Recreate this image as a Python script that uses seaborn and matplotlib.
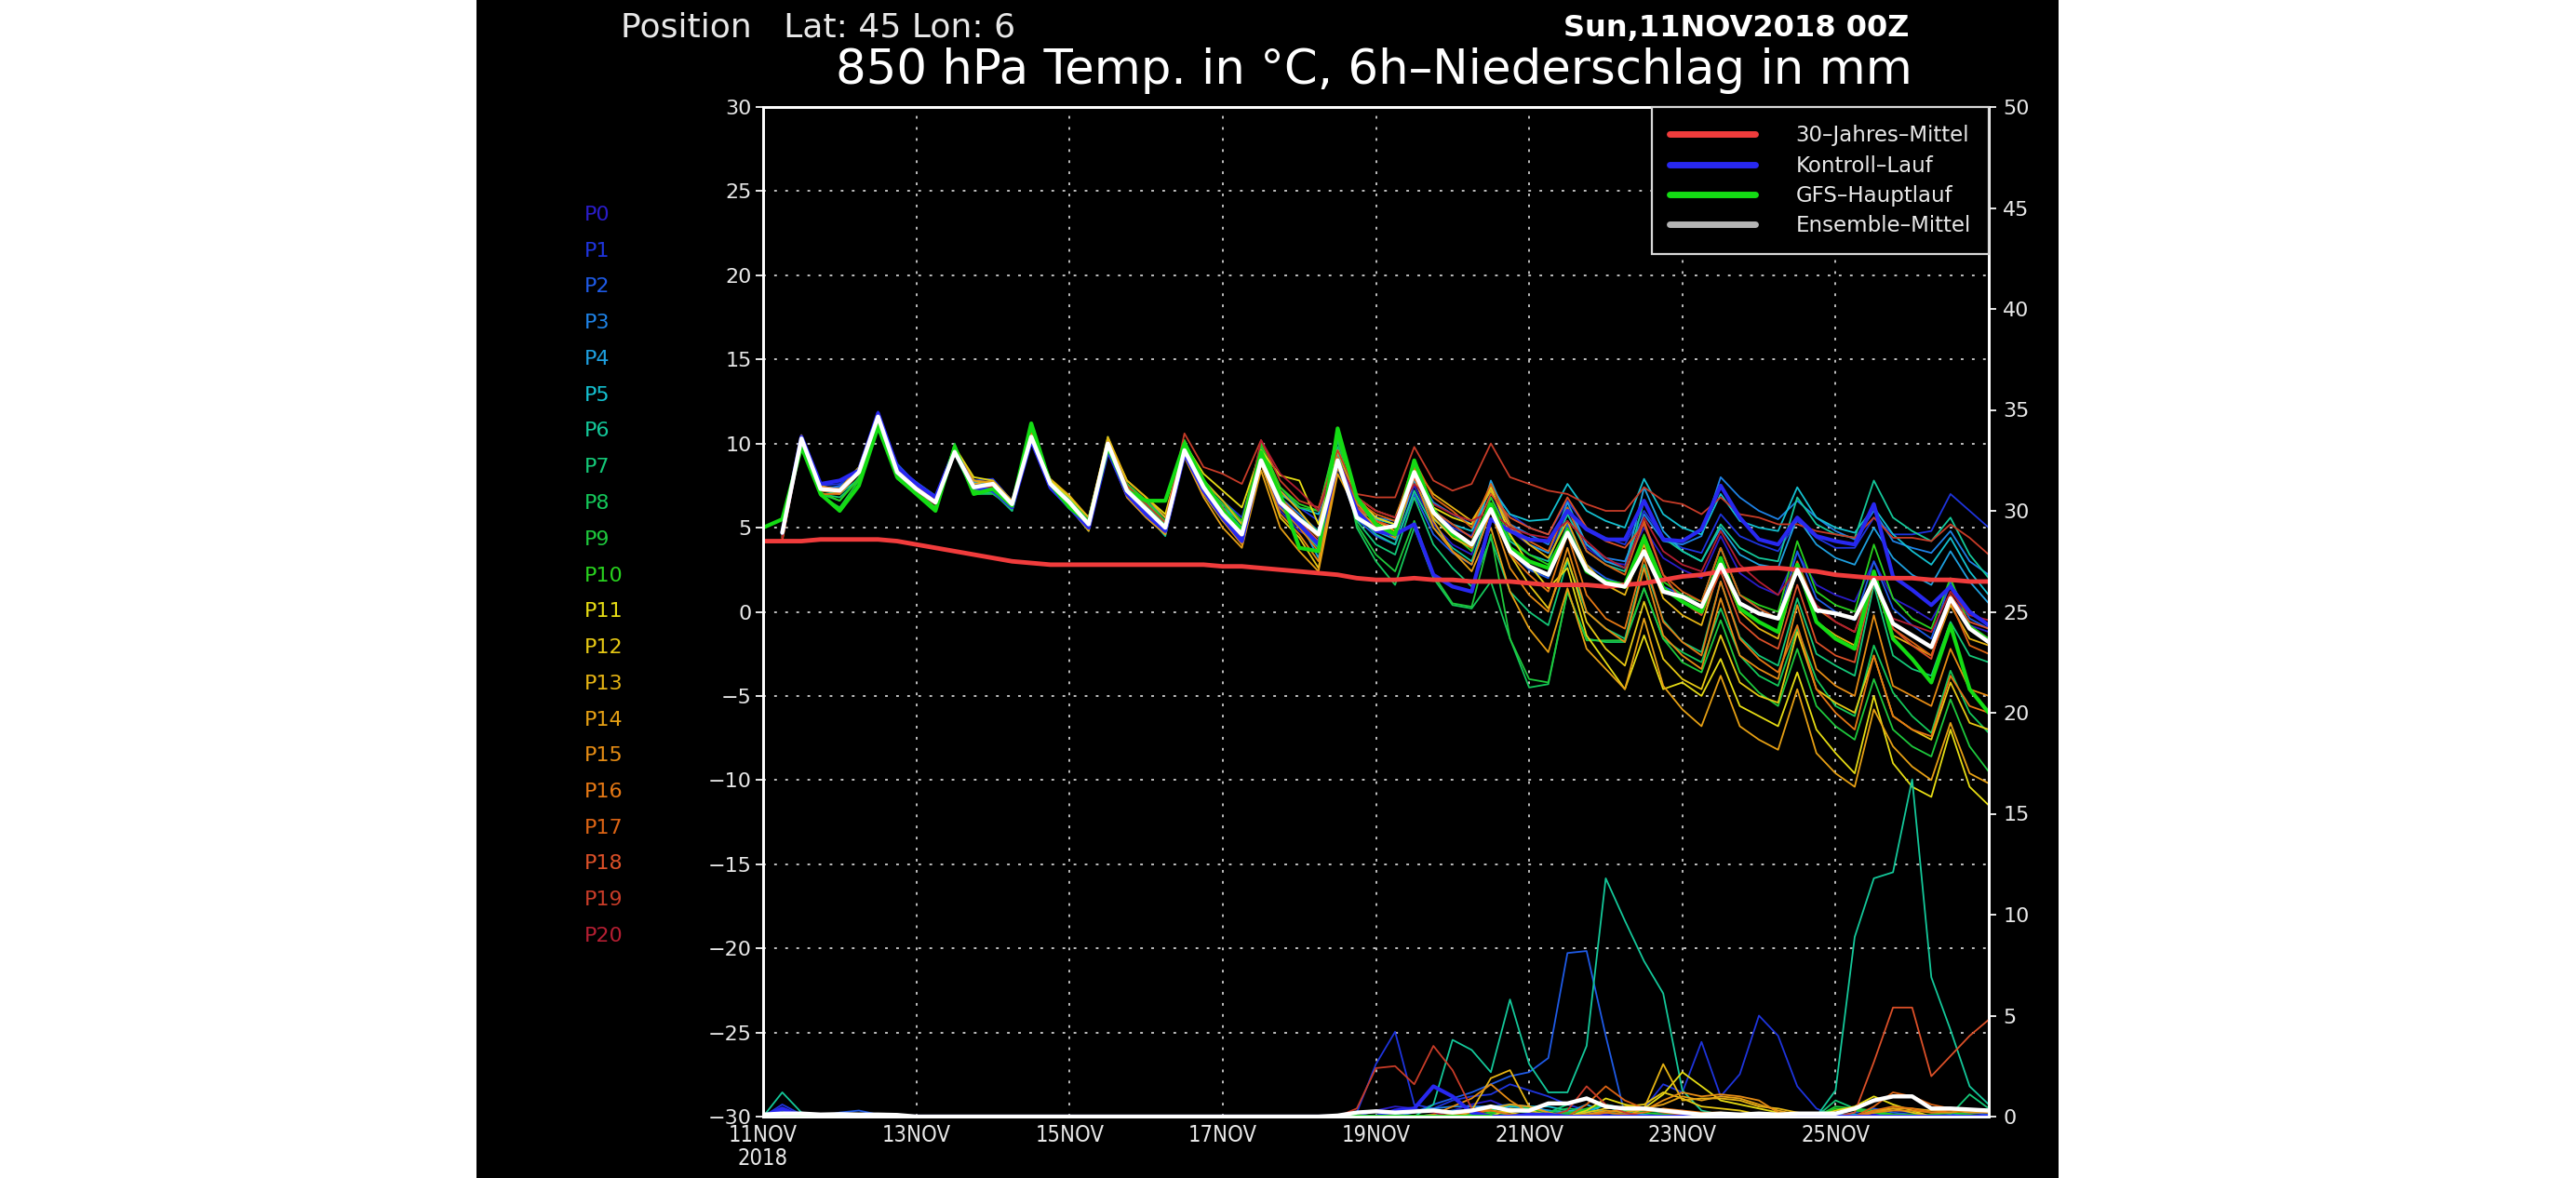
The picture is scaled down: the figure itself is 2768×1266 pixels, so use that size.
import matplotlib
matplotlib.use("Agg")
import matplotlib.pyplot as plt
from matplotlib.lines import Line2D
from matplotlib.patches import Rectangle
import seaborn as sns

# 6-hourly steps from 11NOV2018 00Z to +384h
HOURS = list(range(0, 385, 6))
MEMBER_HOURS = HOURS[1:]

# ---- 850 hPa temperature (degC) ----
CLIMATE = [4.2, 4.2, 4.2, 4.3, 4.3, 4.3, 4.3, 4.2, 4.0,
           3.8, 3.6, 3.4, 3.2, 3.0, 2.9, 2.8, 2.8,
           2.8, 2.8, 2.8, 2.8, 2.8, 2.8, 2.8, 2.7, 2.7,
           2.6, 2.5, 2.4, 2.3, 2.2, 2.0, 1.9, 1.9,
           2.0, 1.9, 1.9, 1.8, 1.8, 1.8, 1.7, 1.6,
           1.6, 1.6, 1.5, 1.6, 1.7, 1.9, 2.1, 2.2,
           2.4, 2.5, 2.6, 2.6, 2.5, 2.4, 2.2, 2.1,
           2.0, 2.0, 2.0, 1.9, 1.9, 1.8, 1.8]

GFS_TEMP = [5.0,
            5.5, 9.8, 7.0, 6.0, 7.5, 11.0, 8.0, 7.0, 6.0, 9.8, 7.0, 7.3, 6.3, 11.2, 7.6, 6.2,
            5.3, 9.8, 7.2, 6.6, 6.6, 10.0, 7.8, 6.0, 4.8, 9.5, 7.0, 3.8, 3.6, 10.9,
            6.8, 5.2, 4.6, 9.0, 6.0, 4.6, 4.0, 6.4, 3.8, 3.0, 2.6, 4.8, 2.4, 1.8, 1.6,
            4.4, 1.4, 0.6, 0.0, 3.2, 0.2, -0.6, -1.2, 2.8, -0.6, -1.6, -2.2,
            2.4, -1.6, -2.8, -4.2, -0.8, -4.6, -6.0]

CONTROL_TEMP = [4.7, 10.4, 7.6, 7.8, 8.4, 11.8, 8.6, 7.6, 6.8, 9.6, 7.4, 7.2, 6.2, 10.2, 7.4, 6.2,
                5.0, 9.6, 7.0, 5.8, 4.8, 9.4, 7.2, 5.6, 4.2, 9.2, 6.4, 5.2, 4.0, 9.0,
                6.0, 4.8, 4.6, 5.2, 2.2, 1.5, 1.2, 5.5, 4.8, 4.3, 4.2, 6.0, 4.9, 4.3, 4.3,
                6.6, 4.3, 4.2, 4.9, 7.5, 5.6, 4.3, 4.0, 5.6, 4.5, 4.2, 4.0,
                6.4, 2.1, 1.3, 0.4, 1.5, 0.0, -0.8]

MEAN_TEMP = [4.7, 10.3, 7.3, 7.2, 8.3, 11.6, 8.3, 7.3, 6.5, 9.5, 7.4, 7.6, 6.4, 10.4, 7.6, 6.5,
             5.2, 10.0, 7.2, 6.1, 5.0, 9.6, 7.4, 5.8, 4.6, 9.0, 6.5, 5.5, 4.6, 9.0,
             5.6, 4.9, 5.1, 8.3, 5.9, 4.8, 4.0, 6.1, 3.6, 2.7, 2.2, 4.7, 2.5, 1.7, 1.5,
             3.6, 1.2, 0.9, 0.3, 2.8, 0.5, -0.1, -0.4, 2.5, 0.1, -0.1, -0.4,
             1.9, -0.7, -1.4, -2.1, 0.8, -1.0, -1.8]

P0_TEMP = [4.6, 10.4, 7.3, 7.4, 8.4, 11.8, 8.4, 7.2, 6.6, 9.6, 7.6, 7.8, 6.4, 10.2, 7.4, 6.2,
           5.0, 9.6, 6.8, 5.6, 4.6, 9.4, 7.2, 5.6, 4.4, 8.8, 6.0, 4.8, 4.2, 8.8,
           6.0, 5.0, 4.6, 7.5, 5.2, 4.0, 3.4, 6.8, 4.8, 4.0, 3.5, 5.8, 3.8, 3.0, 2.8,
           5.0, 3.2, 2.5, 2.0, 4.5, 2.3, 1.5, 1.0, 3.5, 1.6, 1.0, 0.6,
           3.0, 0.8, 0.2, -0.5, 1.5, -0.8, -1.2]
P1_TEMP = [4.8, 10.5, 7.5, 7.6, 8.4, 11.9, 8.6, 7.6, 6.8, 9.8, 7.8, 7.9, 6.6, 10.3, 7.8, 6.8,
           5.4, 9.9, 7.4, 6.4, 5.4, 9.8, 7.8, 6.6, 5.6, 9.6, 7.2, 6.2, 5.4, 9.4,
           6.5, 5.6, 5.2, 8.0, 6.0, 5.0, 4.5, 7.5, 5.8, 5.0, 4.6, 6.6, 5.0, 4.4, 4.0,
           6.0, 4.4, 3.8, 3.5, 5.8, 4.5, 4.0, 3.6, 5.4, 4.4, 3.8, 3.8,
           5.6, 4.6, 4.6, 4.8, 7.0, 6.0, 5.0]
P2_TEMP = [4.7, 10.2, 7.2, 7.5, 8.2, 11.7, 8.8, 7.6, 6.8, 9.4, 7.6, 7.6, 6.2, 10.1, 7.3, 6.2,
           5.0, 9.8, 7.0, 5.8, 4.8, 9.4, 7.0, 5.6, 4.2, 8.9, 6.4, 5.2, 4.0, 8.6,
           5.5, 4.5, 4.0, 7.0, 4.6, 3.5, 2.8, 6.0, 3.6, 2.5, 2.0, 5.2, 2.8, 2.0, 1.6,
           4.5, 1.5, 1.0, 0.6, 3.8, 1.0, 0.2, -0.4, 3.6, 0.8, 0.0, -0.5,
           3.0, 0.2, -0.8, -1.6, 1.8, -0.4, -1.0]
P3_TEMP = [4.6, 10.4, 7.4, 7.4, 8.3, 11.6, 8.6, 7.7, 6.9, 9.6, 7.8, 7.4, 6.4, 10.4, 7.8, 6.8,
           5.6, 10.2, 7.6, 6.6, 5.6, 9.8, 7.6, 6.4, 5.2, 9.4, 6.8, 5.8, 4.8, 9.2,
           6.2, 5.6, 5.4, 8.4, 6.5, 5.8, 5.2, 7.2, 5.2, 4.6, 4.0, 6.2, 4.0, 3.2, 3.0,
           5.8, 4.2, 4.0, 4.5, 8.0, 6.8, 6.0, 5.5, 6.6, 5.6, 4.8, 4.3,
           6.0, 4.2, 3.8, 3.5, 4.8, 3.0, 2.2]
P4_TEMP = [4.8, 10.3, 7.3, 7.2, 8.3, 11.5, 8.4, 7.4, 6.6, 9.6, 7.7, 7.4, 6.2, 10.6, 7.8, 6.6,
           5.4, 10.2, 7.6, 6.4, 5.2, 9.8, 7.8, 6.0, 4.6, 9.2, 6.6, 5.4, 3.2, 8.8,
           6.0, 4.8, 4.3, 7.8, 5.5, 4.6, 3.8, 7.8, 5.2, 4.0, 3.5, 6.5, 4.0, 3.0, 2.6,
           7.4, 4.8, 3.6, 3.0, 5.0, 3.4, 2.8, 2.6, 5.6, 4.0, 3.2, 2.8,
           5.0, 3.2, 2.2, 1.6, 3.6, 1.8, 0.5]
P5_TEMP = [4.7, 10.3, 7.4, 7.3, 8.2, 11.4, 8.3, 7.5, 6.7, 9.6, 7.8, 7.6, 6.5, 10.5, 7.7, 6.7,
           5.3, 10.0, 7.4, 6.4, 5.3, 9.7, 7.6, 6.2, 5.3, 9.6, 7.0, 6.2, 5.8, 9.4,
           6.0, 5.5, 5.2, 8.0, 6.0, 5.2, 4.8, 7.4, 5.8, 5.4, 5.5, 7.6, 6.0, 5.4, 5.0,
           7.9, 5.8, 5.0, 4.6, 7.0, 5.4, 5.0, 4.8, 7.4, 5.6, 5.0, 4.7,
           6.2, 4.6, 3.6, 2.8, 4.4, 2.4, 1.0]
P6_TEMP = [4.5, 10.2, 7.2, 7.0, 7.9, 11.4, 8.0, 7.0, 6.2, 9.5, 7.2, 7.2, 6.0, 10.3, 7.4, 6.2,
           4.8, 9.8, 7.0, 5.8, 4.5, 9.4, 7.0, 5.4, 4.2, 9.0, 6.2, 5.0, 3.8, 9.6,
           5.8, 4.6, 4.0, 7.2, 5.0, 3.8, 3.0, 6.4, 4.2, 3.4, 3.0, 5.8, 3.6, 2.8, 2.4,
           6.6, 4.4, 3.6, 3.0, 5.2, 3.8, 3.2, 3.0, 6.8, 5.2, 4.6, 4.4,
           7.8, 5.6, 4.8, 4.2, 5.6, 3.4, 2.0]
P7_TEMP = [4.6, 10.2, 7.0, 6.8, 7.8, 11.5, 8.0, 7.0, 6.2, 9.4, 7.0, 7.1, 6.0, 10.4, 7.5, 6.4,
           5.1, 10.1, 7.4, 6.3, 5.2, 9.8, 7.6, 6.2, 5.0, 9.4, 6.4, 5.6, 4.8, 9.8,
           5.4, 4.0, 3.4, 6.8, 4.0, 2.6, 1.5, 4.4, 1.2, 0.0, -0.8, 3.0, 0.0, -1.0, -1.6,
           2.8, -0.5, -1.8, -2.4, 1.8, -1.5, -2.6, -3.2, 0.8, -2.5, -3.2, -3.8,
           1.6, -2.6, -3.4, -3.8, -0.6, -2.6, -3.0]
P8_TEMP = [4.8, 10.1, 7.0, 6.6, 8.0, 11.3, 8.0, 7.0, 6.0, 9.8, 7.0, 7.0, 6.2, 10.8, 7.8, 6.6,
           5.2, 10.2, 7.4, 6.4, 5.2, 10.0, 7.6, 6.0, 4.8, 9.4, 6.6, 5.6, 4.4, 10.2,
           5.0, 3.0, 1.6, 5.0, 2.0, 0.4, 0.2, 1.8, -1.6, -4.5, -4.3, 1.2, -1.6, -1.8, -1.8,
           1.4, -1.6, -2.4, -3.0, 0.2, -2.6, -3.8, -4.4, -1.0, -4.0, -5.6, -6.2,
           -2.0, -4.8, -6.2, -7.2, -3.5, -6.0, -7.2]
P9_TEMP = [4.9, 10.0, 6.9, 6.2, 7.8, 11.2, 7.9, 7.0, 6.0, 10.0, 7.1, 7.2, 6.2, 11.0, 7.8, 6.6,
           5.3, 10.4, 7.5, 6.6, 5.2, 10.2, 7.6, 6.4, 5.2, 9.8, 7.4, 6.2, 6.0, 10.6,
           5.2, 3.4, 2.4, 5.4, 2.2, 0.5, 0.3, 4.6, -1.6, -4.0, -4.2, 1.2, -1.7, -1.7, -1.7,
           1.4, -1.6, -3.0, -3.6, -0.5, -3.6, -4.8, -5.6, -2.2, -5.6, -6.8, -7.6,
           -4.0, -7.0, -8.0, -8.6, -5.2, -8.0, -9.5]
P10_TEMP = [4.8, 10.2, 7.1, 6.6, 7.9, 11.3, 8.1, 7.2, 6.2, 9.9, 7.2, 7.3, 6.3, 10.8, 7.8, 6.8,
            5.4, 10.3, 7.6, 6.6, 5.4, 10.2, 7.8, 6.6, 5.4, 10.0, 7.4, 6.4, 6.0, 10.4,
            6.6, 5.2, 4.4, 9.0, 6.2, 4.6, 3.6, 6.8, 4.4, 3.4, 2.8, 5.0, 2.6, 1.8, 1.4,
            4.6, 1.8, 1.0, 0.6, 3.8, 1.0, 0.4, 0.0, 4.2, 1.2, 0.4, 0.0,
            4.0, 0.8, -0.4, -1.0, 2.0, -0.8, -1.6]
P11_TEMP = [4.5, 10.4, 7.4, 7.3, 8.6, 11.8, 8.4, 7.6, 6.8, 9.8, 8.0, 7.8, 6.4, 10.4, 7.8, 6.8,
            5.6, 10.2, 7.8, 6.8, 5.8, 10.0, 8.2, 7.2, 6.2, 9.6, 8.1, 7.8, 5.2, 9.6,
            6.8, 5.6, 5.2, 8.8, 6.2, 5.6, 5.2, 7.4, 4.6, 2.8, 1.4, 2.6, -1.4, -3.0, -4.6,
            -1.4, -4.6, -4.2, -5.0, -2.8, -5.6, -6.2, -6.8, -3.6, -7.0, -8.4, -9.6,
            -5.0, -9.0, -10.4, -11.0, -7.0, -10.4, -11.5]
P12_TEMP = [4.4, 10.3, 7.3, 7.2, 8.4, 11.6, 8.2, 7.4, 6.6, 9.6, 7.8, 7.6, 6.4, 10.4, 7.6, 6.6,
            5.2, 10.0, 7.4, 6.2, 5.0, 9.6, 7.4, 5.6, 4.2, 8.8, 5.6, 4.4, 2.6, 8.6,
            6.4, 5.4, 4.8, 8.2, 5.6, 4.4, 3.8, 6.4, 3.4, 1.6, 0.2, 3.2, -0.6, -2.2, -3.2,
            0.6, -2.8, -4.0, -4.6, -1.4, -4.2, -5.0, -5.4, -1.2, -4.6, -5.4, -6.0,
            -2.6, -6.2, -7.0, -7.6, -4.2, -6.6, -7.0]
P13_TEMP = [4.6, 10.5, 7.2, 7.1, 8.5, 11.7, 8.4, 7.3, 6.7, 9.6, 7.6, 7.8, 6.6, 10.5, 7.9, 6.9,
            5.6, 10.4, 7.8, 6.8, 5.6, 10.0, 7.8, 6.6, 5.2, 9.6, 7.2, 6.0, 4.6, 9.6,
            6.8, 6.0, 5.6, 8.6, 7.0, 6.2, 5.4, 7.2, 5.0, 4.0, 3.2, 5.4, 2.8, 1.6, 1.0,
            4.0, 0.8, -0.2, -0.8, 2.8, 0.0, -1.0, -1.6, 2.6, -0.6, -1.4, -2.0,
            1.8, -1.4, -2.0, -2.6, 0.4, -1.6, -2.0]
P14_TEMP = [4.3, 10.4, 7.5, 7.2, 8.4, 11.7, 8.3, 7.4, 6.6, 9.7, 7.8, 7.7, 6.2, 10.2, 7.4, 6.2,
            4.8, 9.6, 6.8, 5.6, 4.6, 9.2, 6.8, 5.0, 3.8, 8.4, 5.0, 3.6, 2.4, 8.2,
            6.0, 5.2, 4.6, 8.4, 5.4, 3.6, 2.4, 5.0, 1.2, -1.0, -2.4, 1.4, -2.2, -3.4, -4.6,
            -0.4, -4.4, -5.8, -6.8, -3.8, -6.8, -7.6, -8.2, -4.6, -8.4, -9.6, -10.4,
            -5.8, -8.0, -9.2, -10.0, -6.6, -9.6, -10.2]
P15_TEMP = [4.4, 10.3, 7.2, 7.1, 8.2, 11.5, 8.2, 7.2, 6.5, 9.5, 7.5, 7.4, 6.2, 10.4, 7.6, 6.4,
            5.0, 9.8, 7.0, 5.8, 4.8, 9.4, 7.0, 5.4, 4.0, 8.8, 5.8, 4.6, 3.0, 8.6,
            6.2, 5.0, 4.4, 8.0, 5.0, 3.6, 2.8, 6.0, 2.6, 1.0, 0.0, 3.8, 0.0, -1.0, -1.8,
            2.6, -1.4, -2.6, -3.4, 0.8, -2.6, -3.4, -4.0, 0.4, -3.4, -4.4, -5.0,
            -0.2, -4.4, -5.0, -5.6, -2.2, -4.6, -5.0]
P16_TEMP = [4.2, 10.2, 7.0, 7.0, 8.2, 11.5, 8.2, 7.2, 6.4, 9.6, 7.4, 7.4, 6.3, 10.6, 7.6, 6.4,
            5.1, 9.8, 7.0, 5.8, 4.7, 9.5, 7.2, 5.8, 4.4, 9.2, 6.2, 5.0, 3.6, 9.0,
            6.4, 5.4, 5.0, 8.6, 5.8, 4.6, 3.8, 6.2, 3.4, 2.2, 1.2, 4.6, 1.0, -0.4, -1.0,
            3.2, -0.6, -1.8, -2.6, 1.8, -1.6, -2.8, -3.6, -0.8, -4.6, -6.0, -7.0,
            -2.6, -6.2, -7.0, -7.4, -3.8, -5.6, -6.0]
P17_TEMP = [4.4, 10.3, 7.2, 7.2, 8.4, 11.6, 8.4, 7.4, 6.5, 9.5, 7.5, 7.5, 6.4, 10.3, 7.6, 6.4,
            5.2, 10.0, 7.2, 6.0, 4.9, 9.6, 7.4, 5.9, 4.6, 9.4, 6.8, 5.6, 4.4, 9.2,
            6.6, 5.8, 5.4, 9.0, 6.8, 6.0, 5.0, 7.6, 5.2, 4.2, 3.6, 6.2, 3.6, 2.8, 2.2,
            5.4, 2.2, 1.2, 0.6, 3.8, 1.0, 0.2, -0.4, 3.0, 0.2, -0.6, -1.2,
            2.2, -1.0, -1.8, -2.6, 0.6, -2.0, -2.5]
P18_TEMP = [4.3, 10.2, 7.4, 7.3, 8.5, 11.8, 8.5, 7.5, 6.6, 9.4, 7.5, 7.6, 6.4, 10.2, 7.6, 6.4,
            5.2, 9.9, 7.2, 6.0, 5.0, 10.0, 7.6, 6.2, 4.6, 9.4, 6.6, 5.4, 4.2, 8.8,
            6.2, 5.4, 5.0, 8.0, 6.0, 5.2, 4.4, 7.0, 5.6, 5.0, 4.6, 6.8, 5.0, 4.2, 3.8,
            5.2, 2.2, 0.6, -0.2, 2.4, -0.6, -1.6, -2.2, 1.6, -1.8, -2.6, -3.0,
            2.0, -1.0, -2.0, -2.8, 1.0, -0.6, -1.0]
P19_TEMP = [4.5, 10.1, 7.3, 7.1, 8.3, 11.5, 8.2, 7.3, 6.4, 9.4, 7.4, 7.5, 6.3, 10.3, 7.6, 6.4,
            5.1, 10.1, 7.5, 6.4, 5.3, 10.6, 8.6, 8.2, 7.6, 10.2, 7.8, 6.6, 6.2, 9.6,
            7.0, 6.8, 6.8, 9.8, 7.8, 7.2, 7.6, 10.0, 8.0, 7.6, 7.2, 7.0, 6.4, 6.0, 6.0,
            7.4, 6.6, 6.4, 5.8, 6.8, 5.8, 5.6, 5.2, 5.2, 4.8, 4.6, 4.4,
            5.6, 4.4, 4.4, 4.2, 5.2, 4.4, 3.4]
P20_TEMP = [4.4, 10.0, 7.2, 7.2, 8.2, 11.4, 8.2, 7.2, 6.4, 9.4, 7.4, 7.4, 6.2, 10.2, 7.5, 6.3,
            5.0, 9.9, 7.1, 6.0, 4.9, 9.6, 7.2, 5.8, 4.7, 10.2, 8.2, 7.2, 6.0, 9.0,
            6.8, 6.0, 5.6, 7.6, 6.4, 5.8, 5.4, 6.0, 5.0, 4.6, 4.4, 5.4, 4.2, 3.2, 2.6,
            5.6, 3.6, 2.8, 2.4, 4.8, 2.8, 1.8, 1.0, 2.6, 0.4, -0.6, -1.2,
            1.8, -0.4, -0.8, -1.2, 1.2, -0.2, -0.5]

# ---- 6h precipitation (mm), t = 0 .. 384h ----
MEAN_RAIN = [0.1, 0.15, 0.15, 0.1, 0.12, 0.1, 0.1, 0.08, 0, 0, 0, 0, 0, 0, 0, 0,
             0, 0, 0, 0, 0, 0, 0, 0, 0, 0, 0, 0, 0, 0, 0.05,
             0.2, 0.26, 0.2, 0.25, 0.3, 0.2, 0.3, 0.5, 0.3, 0.3, 0.65, 0.65, 0.9, 0.5, 0.4,
             0.4, 0.3, 0.2, 0.1, 0.15, 0.1, 0.15, 0.1, 0.15, 0.15, 0.15, 0.4,
             0.8, 1.0, 1.0, 0.4, 0.4, 0.35, 0.3]
CONTROL_RAIN = [0, 0.4, 0, 0, 0, 0, 0, 0, 0, 0, 0, 0, 0, 0, 0, 0,
                0, 0, 0, 0, 0, 0, 0, 0, 0, 0, 0, 0, 0, 0, 0,
                0, 0, 0.3, 0.4, 1.5, 1.0, 0.2, 0, 0, 0.1, 0.1, 0, 0, 0, 0,
                0, 0, 0, 0, 0, 0, 0, 0, 0, 0, 0, 0,
                0, 0, 0, 0, 0, 0, 0]
GFS_RAIN = [0, 0, 0, 0, 0, 0, 0, 0, 0, 0, 0, 0, 0, 0, 0, 0, 0, 0, 0, 0,
            0, 0, 0, 0, 0, 0, 0, 0, 0, 0, 0, 0, 0, 0, 0, 0, 0, 0, 0]

P0_RAIN = [0, 0.2, 0, 0, 0, 0, 0, 0, 0, 0, 0, 0, 0, 0, 0, 0,
           0, 0, 0, 0, 0, 0, 0, 0, 0, 0, 0, 0, 0, 0, 0,
           0, 0.3, 0.5, 0.4, 0.2, 0.3, 0.6, 0.8, 0.4, 0.2, 0.1, 0.3, 0.2, 0.1, 0,
           0, 0.2, 0.3, 0.1, 0, 0, 0.1, 0, 0, 0, 0, 0,
           0.1, 0.3, 0.2, 0, 0, 0, 0.1]
P1_RAIN = [0, 0.6, 0.1, 0, 0, 0, 0, 0, 0, 0, 0, 0, 0, 0, 0, 0,
           0, 0, 0, 0, 0, 0, 0, 0, 0, 0, 0, 0, 0, 0, 0,
           0.2, 2.6, 4.2, 0.6, 0.4, 0.8, 1.0, 1.1, 1.6, 1.3, 1.0, 0.6, 0.3, 0.2, 0.1,
           0.4, 1.6, 1.2, 3.7, 1.0, 2.1, 5.0, 4.0, 1.5, 0.4, 0, 0,
           0, 0.1, 0, 0, 0, 0, 0]
P2_RAIN = [0, 0.3, 0, 0, 0.2, 0.3, 0.1, 0, 0, 0, 0, 0, 0, 0, 0, 0,
           0, 0, 0, 0, 0, 0, 0, 0, 0, 0, 0, 0, 0, 0, 0,
           0, 0, 0, 0.2, 0.6, 0.9, 1.2, 1.6, 2.0, 2.2, 2.9, 8.1, 8.2, 4.0, 0.1,
           0, 0, 0.2, 0.1, 0, 0, 0, 0, 0, 0, 0, 0.2,
           0.4, 0.2, 0.1, 0, 0.1, 0.2, 0.1]
P3_RAIN = [0, 0, 0, 0, 0, 0, 0, 0, 0, 0, 0, 0, 0, 0, 0, 0,
           0, 0, 0, 0, 0, 0, 0, 0, 0, 0, 0, 0, 0, 0, 0,
           0, 0, 0.1, 0.3, 0.4, 0.5, 0.5, 0.5, 0.6, 0.5, 0.3, 0.2, 0.3, 0.6, 0.2,
           0.1, 0, 0, 0, 0, 0, 0, 0, 0, 0, 0.1, 0.1,
           0.2, 0.1, 0, 0, 0, 0, 0]
P4_RAIN = [0, 0, 0, 0, 0, 0, 0, 0, 0, 0, 0, 0, 0, 0, 0, 0,
           0, 0, 0, 0, 0, 0, 0, 0, 0, 0, 0, 0, 0, 0, 0,
           0, 0, 0, 0, 0.1, 0.3, 0.3, 0.5, 0.5, 0.4, 0.3, 0.2, 0.6, 0.2, 0.1,
           0, 0, 0, 0, 0, 0, 0, 0, 0, 0, 0, 0,
           0, 0, 0, 0.1, 0.2, 0, 0]
P5_RAIN = [0, 0, 0, 0, 0, 0, 0, 0, 0, 0, 0, 0, 0, 0, 0, 0,
           0, 0, 0, 0, 0, 0, 0, 0, 0, 0, 0, 0, 0, 0, 0,
           0, 0, 0, 0, 0, 0.1, 0.2, 0.4, 0.5, 0.5, 0.5, 0.3, 0.2, 0.6, 0.4,
           0.1, 0, 0, 0, 0, 0, 0, 0, 0, 0, 0.1, 0.1,
           0, 0, 0, 0, 0, 0, 0]
P6_RAIN = [0, 1.2, 0.2, 0.1, 0, 0, 0, 0, 0, 0, 0, 0, 0, 0, 0, 0,
           0, 0, 0, 0, 0, 0, 0, 0, 0, 0, 0, 0, 0, 0, 0,
           0, 0, 0, 0, 0.6, 3.8, 3.3, 2.2, 5.8, 2.6, 1.2, 1.2, 3.5, 11.8, 9.7,
           7.7, 6.1, 1.3, 0.3, 0.1, 0, 0, 0, 0, 0, 1.3, 8.9,
           11.8, 12.1, 16.7, 6.9, 4.3, 1.5, 0.6]
P7_RAIN = [0, 0, 0, 0, 0, 0, 0, 0, 0, 0, 0, 0, 0, 0, 0, 0,
           0, 0, 0, 0, 0, 0, 0, 0, 0, 0, 0, 0, 0, 0, 0,
           0, 0, 0, 0, 0, 0.1, 0.2, 0.3, 0.6, 0.4, 0.2, 0.6, 0.9, 0.5, 0.2,
           0.3, 0.2, 0.1, 0, 0, 0, 0, 0, 0, 0, 0.8, 0.4,
           0.2, 0, 0, 0, 0.1, 1.1, 0.4]
P8_RAIN = [0, 0, 0, 0, 0, 0, 0, 0, 0, 0, 0, 0, 0, 0, 0, 0,
           0, 0, 0, 0, 0, 0, 0, 0, 0, 0, 0, 0, 0, 0, 0,
           0, 0, 0, 0, 0, 0, 0.1, 0.2, 0.1, 0.1, 0.2, 0.4, 0.3, 0.2, 0.1,
           0, 0, 0, 0, 0, 0, 0, 0, 0, 0, 0, 0,
           0, 0, 0, 0, 0, 0, 0]
P9_RAIN = [0, 0, 0, 0, 0, 0, 0, 0, 0, 0, 0, 0, 0, 0, 0, 0,
           0, 0, 0, 0, 0, 0, 0, 0, 0, 0, 0, 0, 0, 0, 0,
           0, 0, 0, 0, 0, 0, 0, 0.1, 0.3, 0.2, 0.1, 0.2, 0.3, 0.2, 0.1,
           0, 0.1, 0.1, 0, 0, 0, 0, 0, 0, 0, 0.5, 0.4,
           0.3, 0.1, 0, 0, 0, 0, 0]
P10_RAIN = [0, 0, 0, 0, 0, 0, 0, 0, 0, 0, 0, 0, 0, 0, 0, 0,
            0, 0, 0, 0, 0, 0, 0, 0, 0, 0, 0, 0, 0, 0, 0,
            0, 0, 0, 0, 0, 0, 0, 0.2, 0.3, 0.4, 0.2, 0.1, 0.4, 0.6, 0.3,
            0.2, 0.1, 0, 0, 0, 0, 0, 0, 0, 0, 0.4, 0.3,
            0.2, 0.1, 0.1, 0.1, 0.2, 0.1, 0]
P11_RAIN = [0, 0, 0, 0, 0, 0, 0, 0, 0, 0, 0, 0, 0, 0, 0, 0,
            0, 0, 0, 0, 0, 0, 0, 0, 0, 0, 0, 0, 0, 0, 0,
            0, 0, 0, 0, 0, 0, 0, 0, 0.4, 0.3, 0.1, 0, 0.3, 0.9, 0.6,
            0.4, 1.1, 2.2, 1.5, 0.8, 0.6, 0.4, 0.2, 0, 0, 0.3, 0.5,
            1.0, 0.6, 0.3, 0, 0, 0, 0]
P12_RAIN = [0, 0, 0, 0, 0, 0, 0, 0, 0, 0, 0, 0, 0, 0, 0, 0,
            0, 0, 0, 0, 0, 0, 0, 0, 0, 0, 0, 0, 0, 0, 0,
            0, 0, 0, 0, 0, 0, 0.2, 0.3, 0.2, 0, 0, 0, 0.2, 0.4, 0.5,
            0.6, 1.2, 0.9, 0.5, 0.4, 0.3, 0.1, 0, 0, 0, 0, 0,
            0.3, 0.4, 0.2, 0, 0, 0, 0]
P13_RAIN = [0, 0, 0, 0, 0, 0, 0, 0, 0, 0, 0, 0, 0, 0, 0, 0,
            0, 0, 0, 0, 0, 0, 0, 0, 0, 0, 0, 0, 0, 0, 0,
            0, 0, 0, 0, 0, 0.1, 0.3, 1.9, 2.3, 0.5, 0.2, 0, 0, 0, 0,
            0.4, 2.6, 0.8, 0.9, 0.9, 0.8, 0.5, 0.4, 0.2, 0.1, 0, 0,
            0, 0, 0, 0, 0, 0, 0]
P14_RAIN = [0, 0, 0, 0, 0, 0, 0, 0, 0, 0, 0, 0, 0, 0, 0, 0,
            0, 0, 0, 0, 0, 0, 0, 0, 0, 0, 0, 0, 0, 0, 0,
            0, 0, 0, 0, 0, 0.1, 0.2, 0.4, 0.6, 0.5, 0.2, 0, 0.1, 0.3, 0.2,
            0.4, 0.6, 1.0, 0.8, 1.0, 0.9, 0.6, 0.3, 0.1, 0, 0, 0,
            0.2, 0.4, 0.4, 0.3, 0.3, 0.2, 0.2]
P15_RAIN = [0, 0, 0, 0, 0, 0, 0, 0, 0, 0, 0, 0, 0, 0, 0, 0,
            0, 0, 0, 0, 0, 0, 0, 0, 0, 0, 0, 0, 0, 0, 0,
            0, 0, 0, 0, 0.1, 0.5, 0.9, 1.6, 0.8, 0.2, 0, 0, 0.1, 0.2, 0.4,
            0.3, 0.8, 1.2, 1.0, 1.1, 1.0, 0.8, 0.2, 0, 0, 0, 0,
            0.2, 0.3, 0.3, 0.2, 0.2, 0.3, 0.2]
P16_RAIN = [0, 0, 0, 0, 0, 0, 0, 0, 0, 0, 0, 0, 0, 0, 0, 0,
            0, 0, 0, 0, 0, 0, 0, 0, 0, 0, 0, 0, 0, 0, 0,
            0, 0, 0, 0, 0, 0.1, 0.2, 0.3, 0.1, 0, 0, 0, 0, 0.2, 0.1,
            0.2, 0.4, 0.3, 0.2, 0.2, 0.1, 0, 0, 0, 0, 0, 0,
            0.3, 0.5, 0.4, 0.2, 0.3, 0.3, 0.3]
P17_RAIN = [0, 0, 0, 0, 0, 0, 0, 0, 0, 0, 0, 0, 0, 0, 0, 0,
            0, 0, 0, 0, 0, 0, 0, 0, 0, 0, 0, 0, 0, 0, 0,
            0, 0, 0, 0, 0, 0, 0, 0, 0, 0, 0, 0, 0.6, 1.5, 0.8,
            0.4, 0.2, 0.1, 0, 0, 0, 0, 0, 0, 0, 0, 0,
            0.5, 1.2, 1.0, 0.6, 0.4, 0.3, 0.3]
P18_RAIN = [0, 0, 0, 0, 0, 0, 0, 0, 0, 0, 0, 0, 0, 0, 0, 0,
            0, 0, 0, 0, 0, 0, 0, 0, 0, 0, 0, 0, 0, 0, 0,
            0, 0, 0, 0, 0, 0, 0, 0, 0, 0, 0, 0, 0, 0, 0,
            0, 0, 0, 0, 0, 0, 0, 0, 0, 0, 0, 0.2,
            2.7, 5.4, 5.4, 2.0, 3.0, 4.0, 4.8]
P19_RAIN = [0, 0, 0, 0, 0, 0, 0, 0, 0, 0, 0, 0, 0, 0, 0, 0,
            0, 0, 0, 0, 0, 0, 0, 0, 0, 0, 0, 0, 0, 0, 0,
            0.4, 2.4, 2.5, 1.6, 3.5, 2.3, 0.4, 0, 0, 0, 0, 0.3, 1.5, 0.6, 0.2,
            0, 0, 0, 0, 0, 0, 0, 0, 0, 0, 0, 0,
            0, 0, 0, 0, 0, 0, 0]
P20_RAIN = [0, 0, 0, 0, 0, 0, 0, 0, 0, 0, 0, 0, 0, 0, 0, 0,
            0, 0, 0, 0, 0, 0, 0, 0, 0, 0, 0, 0, 0, 0, 0,
            0, 0, 0.2, 0.3, 0.2, 0, 0, 0, 0, 0, 0, 0, 0, 0, 0,
            0, 0, 0, 0, 0, 0, 0, 0, 0, 0, 0, 0,
            0, 0, 0, 0, 0, 0, 0]

MEMBER_NAMES = ["P%d" % i for i in range(21)]
MEMBER_COLORS = ["#2a1cc8", "#1e34dc", "#1e5ae6", "#1e82e6", "#1ea0e0", "#14c0d0",
                 "#14c89a", "#14c878", "#14c85a", "#1ec83c", "#28d21e", "#e6dc14",
                 "#e6c814", "#e6b414", "#e6a014", "#e68c14", "#e67814", "#dc6414",
                 "#dc5028", "#c83c28", "#b41e32"]
MEMBER_TEMPS = [P0_TEMP, P1_TEMP, P2_TEMP, P3_TEMP, P4_TEMP, P5_TEMP, P6_TEMP, P7_TEMP,
                P8_TEMP, P9_TEMP, P10_TEMP, P11_TEMP, P12_TEMP, P13_TEMP, P14_TEMP,
                P15_TEMP, P16_TEMP, P17_TEMP, P18_TEMP, P19_TEMP, P20_TEMP]
MEMBER_RAINS = [P0_RAIN, P1_RAIN, P2_RAIN, P3_RAIN, P4_RAIN, P5_RAIN, P6_RAIN, P7_RAIN,
                P8_RAIN, P9_RAIN, P10_RAIN, P11_RAIN, P12_RAIN, P13_RAIN, P14_RAIN,
                P15_RAIN, P16_RAIN, P17_RAIN, P18_RAIN, P19_RAIN, P20_RAIN]

XTICK_HOURS = [0, 48, 96, 144, 192, 240, 288, 336]
XTICK_LABELS = ["11NOV\n2018", "13NOV", "15NOV", "17NOV", "19NOV", "21NOV", "23NOV", "25NOV"]

CLIM_COLOR = "#f03c3c"
CTRL_COLOR = "#2828f0"
GFS_COLOR = "#14dc14"
TXT = "#e8e8e8"

sns.set_style("dark")
plt.rcParams["font.family"] = ["DejaVu Sans"]

W, H = 2768, 1266
fig = plt.figure(figsize=(W / 100, H / 100), dpi=100, facecolor="white")
fig.patches.append(Rectangle((512 / W, 0), 1700 / W, 1, transform=fig.transFigure,
                             facecolor="black", edgecolor="none", zorder=-10))

ax = fig.add_axes([820 / W, 66 / H, 1317 / W, 1085 / H])
ax.set_facecolor("black")
ax2 = ax.twinx()
ax2.patch.set_visible(False)

# temperature
for temps, col in zip(MEMBER_TEMPS, MEMBER_COLORS):
    sns.lineplot(x=MEMBER_HOURS, y=temps, ax=ax, color=col, linewidth=1.3,
                 legend=False, estimator=None, sort=False)
sns.lineplot(x=MEMBER_HOURS, y=CONTROL_TEMP, ax=ax, color=CTRL_COLOR, linewidth=3,
             legend=False, estimator=None, sort=False)
sns.lineplot(x=HOURS, y=GFS_TEMP, ax=ax, color=GFS_COLOR, linewidth=3,
             legend=False, estimator=None, sort=False)
sns.lineplot(x=HOURS, y=CLIMATE, ax=ax, color=CLIM_COLOR, linewidth=3.5,
             legend=False, estimator=None, sort=False)
sns.lineplot(x=MEMBER_HOURS, y=MEAN_TEMP, ax=ax, color="white", linewidth=3.2,
             legend=False, estimator=None, sort=False)

# precipitation
for rain, col in zip(MEMBER_RAINS, MEMBER_COLORS):
    sns.lineplot(x=HOURS, y=rain, ax=ax2, color=col, linewidth=1.3,
                 legend=False, estimator=None, sort=False)
sns.lineplot(x=HOURS, y=CONTROL_RAIN, ax=ax2, color=CTRL_COLOR, linewidth=3,
             legend=False, estimator=None, sort=False)
sns.lineplot(x=HOURS[:len(GFS_RAIN)], y=GFS_RAIN, ax=ax2, color=GFS_COLOR, linewidth=3.5,
             legend=False, estimator=None, sort=False)
sns.lineplot(x=HOURS, y=MEAN_RAIN, ax=ax2, color="white", linewidth=3.2,
             legend=False, estimator=None, sort=False)

ax.set_xlim(0, 384)
ax.set_ylim(-30, 30)
ax2.set_ylim(0, 50)
ax.set_xlabel("")
ax.set_ylabel("")
ax2.set_ylabel("")

ax.set_yticks(range(-30, 31, 5))
ax2.set_yticks(range(0, 51, 5))
ax.set_xticks(XTICK_HOURS)
ax.set_xticklabels(XTICK_LABELS, family="DejaVu Sans", fontstretch="condensed",
                   fontsize=17, color=TXT, linespacing=1.05)

ax.grid(True, color="#cfcfcf", linestyle=(0, (1.6, 5)), linewidth=1.3)
ax2.grid(False)
ax.tick_params(axis="y", colors=TXT, labelsize=16, length=6, width=1.4, direction="out", pad=3)
ax.tick_params(axis="x", colors=TXT, length=4, width=1.4, direction="out", pad=2)
ax2.tick_params(axis="y", colors=TXT, labelsize=16, length=6, width=1.4, direction="out", pad=5)

for a in (ax, ax2):
    for sp in a.spines.values():
        sp.set_color("white")
        sp.set_linewidth(2)
        sp.set_visible(True)

handles = [Line2D([], [], color=CLIM_COLOR, linewidth=5),
           Line2D([], [], color=CTRL_COLOR, linewidth=5),
           Line2D([], [], color=GFS_COLOR, linewidth=5),
           Line2D([], [], color="#b4b4b4", linewidth=5)]
labels = ["30\u2013Jahres\u2013Mittel", "Kontroll\u2013Lauf", "GFS\u2013Hauptlauf",
          "Ensemble\u2013Mittel"]
leg = ax2.legend(handles, labels, loc="upper right", bbox_to_anchor=(1, 1),
                 borderaxespad=0, frameon=True, fancybox=False, facecolor="black",
                 edgecolor="#d8d8d8", framealpha=1, fontsize=16.5, handlelength=4.0,
                 handletextpad=1.9, labelspacing=0.4, borderpad=0.85)
leg.get_frame().set_linewidth(1.6)
for t in leg.get_texts():
    t.set_color(TXT)

# header texts
fig.text(667 / W, 1 - 30 / H, "Position   Lat: 45 Lon: 6", color=TXT, fontsize=26,
         ha="left", va="center")
fig.text(2051 / W, 1 - 30 / H, "Sun,11NOV2018 00Z", color="white", fontsize=23,
         fontweight="bold", ha="right", va="center")
fig.text(1476 / W, 1 - 76 / H, "850 hPa Temp. in \u00b0C, 6h\u2013Niederschlag in mm",
         color="white", fontsize=37, ha="center", va="center")

# member colour key
for i, (name, col) in enumerate(zip(MEMBER_NAMES, MEMBER_COLORS)):
    fig.text(628 / W, 1 - (231 + i * 38.75) / H, name, color=col, fontsize=16,
             ha="left", va="center")

fig.savefig("out.png", dpi=100, facecolor="white")
